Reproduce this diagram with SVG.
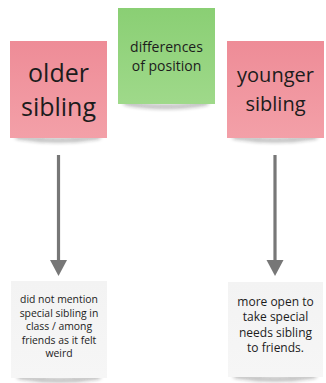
<svg xmlns="http://www.w3.org/2000/svg" width="326" height="383" viewBox="0 0 326 383">
<defs>
<linearGradient id="gPink" x1="0" y1="0" x2="0" y2="1"><stop offset="0" stop-color="#ee8c97"/><stop offset="1" stop-color="#f3a0a8"/></linearGradient>
<linearGradient id="gGreen" x1="0" y1="0" x2="0" y2="1"><stop offset="0" stop-color="#8acf74"/><stop offset="1" stop-color="#9fd98a"/></linearGradient>
<linearGradient id="gWhite" x1="0" y1="0" x2="0" y2="1"><stop offset="0" stop-color="#f3f3f3"/><stop offset="1" stop-color="#f6f6f6"/></linearGradient>
<filter id="blur" x="-20%" y="-200%" width="140%" height="500%"><feGaussianBlur stdDeviation="2"/></filter>
</defs>
<style>
.t{font-family:"Open Sans","Noto Sans","Liberation Sans",sans-serif;fill:#1c1c1c;text-anchor:middle}
.sh{fill:#222;opacity:0.55;filter:url(#blur)}
.conn line{stroke:#777;stroke-width:3.2}
.conn polygon{fill:#777}
</style>
<rect width="326" height="383" fill="#ffffff"/>
<g id="differences">
<path class="sh" d="M124 101 Q166 110 208 101 L208 104 Q166 112 124 104 Z"/>
<rect x="118" y="8" width="97" height="96" fill="url(#gGreen)"/>
<text class="t" font-size="14" x="166.5" y="52">differences</text>
<text class="t" font-size="14" x="166.5" y="71">of position</text>
</g>
<g id="older">
<path class="sh" d="M16 135 Q58 143 100 135 L100 138 Q58 145 16 138 Z"/>
<rect x="10" y="41" width="97" height="97" fill="url(#gPink)"/>
<text class="t" font-size="25" x="58.5" y="82">older</text>
<text class="t" font-size="25" x="58.5" y="116">sibling</text>
</g>
<g id="younger">
<path class="sh" d="M233 135 Q275 143 317 135 L317 138 Q275 145 233 138 Z"/>
<rect x="227" y="41" width="97" height="97" fill="url(#gPink)"/>
<text class="t" font-size="20" x="275.5" y="82">younger</text>
<text class="t" font-size="20" x="275.5" y="111">sibling</text>
</g>
<g id="older-note">
<path class="sh" d="M18 375 Q59 383 100 375 L100 378 Q59 385 18 378 Z"/>
<rect x="11" y="281" width="96" height="97" fill="url(#gWhite)"/>
<text class="t" font-size="10.4" x="59" y="303">did not mention</text>
<text class="t" font-size="10.4" x="59" y="316.5">special sibling in</text>
<text class="t" font-size="10.4" x="59" y="330">class / among</text>
<text class="t" font-size="10.4" x="59" y="343.5">friends as it felt</text>
<text class="t" font-size="10.4" x="59" y="357">weird</text>
</g>
<g id="younger-note">
<path class="sh" d="M234 374 Q275 382 316 374 L316 377 Q275 384 234 377 Z"/>
<rect x="228" y="282" width="95" height="95" fill="url(#gWhite)"/>
<text class="t" font-size="12" x="275.5" y="306">more open to</text>
<text class="t" font-size="12" x="275.5" y="321.3">take special</text>
<text class="t" font-size="12" x="275.5" y="336.6">needs sibling</text>
<text class="t" font-size="12" x="275.5" y="352">to friends.</text>
</g>
<g id="connectors" class="conn">
<line x1="58.5" y1="155" x2="58.5" y2="264"/>
<polygon points="50,260 67,260 58.5,276"/>
<line x1="275" y1="155" x2="275" y2="264"/>
<polygon points="266.5,260 283.5,260 275,276"/>
</g>
</svg>
